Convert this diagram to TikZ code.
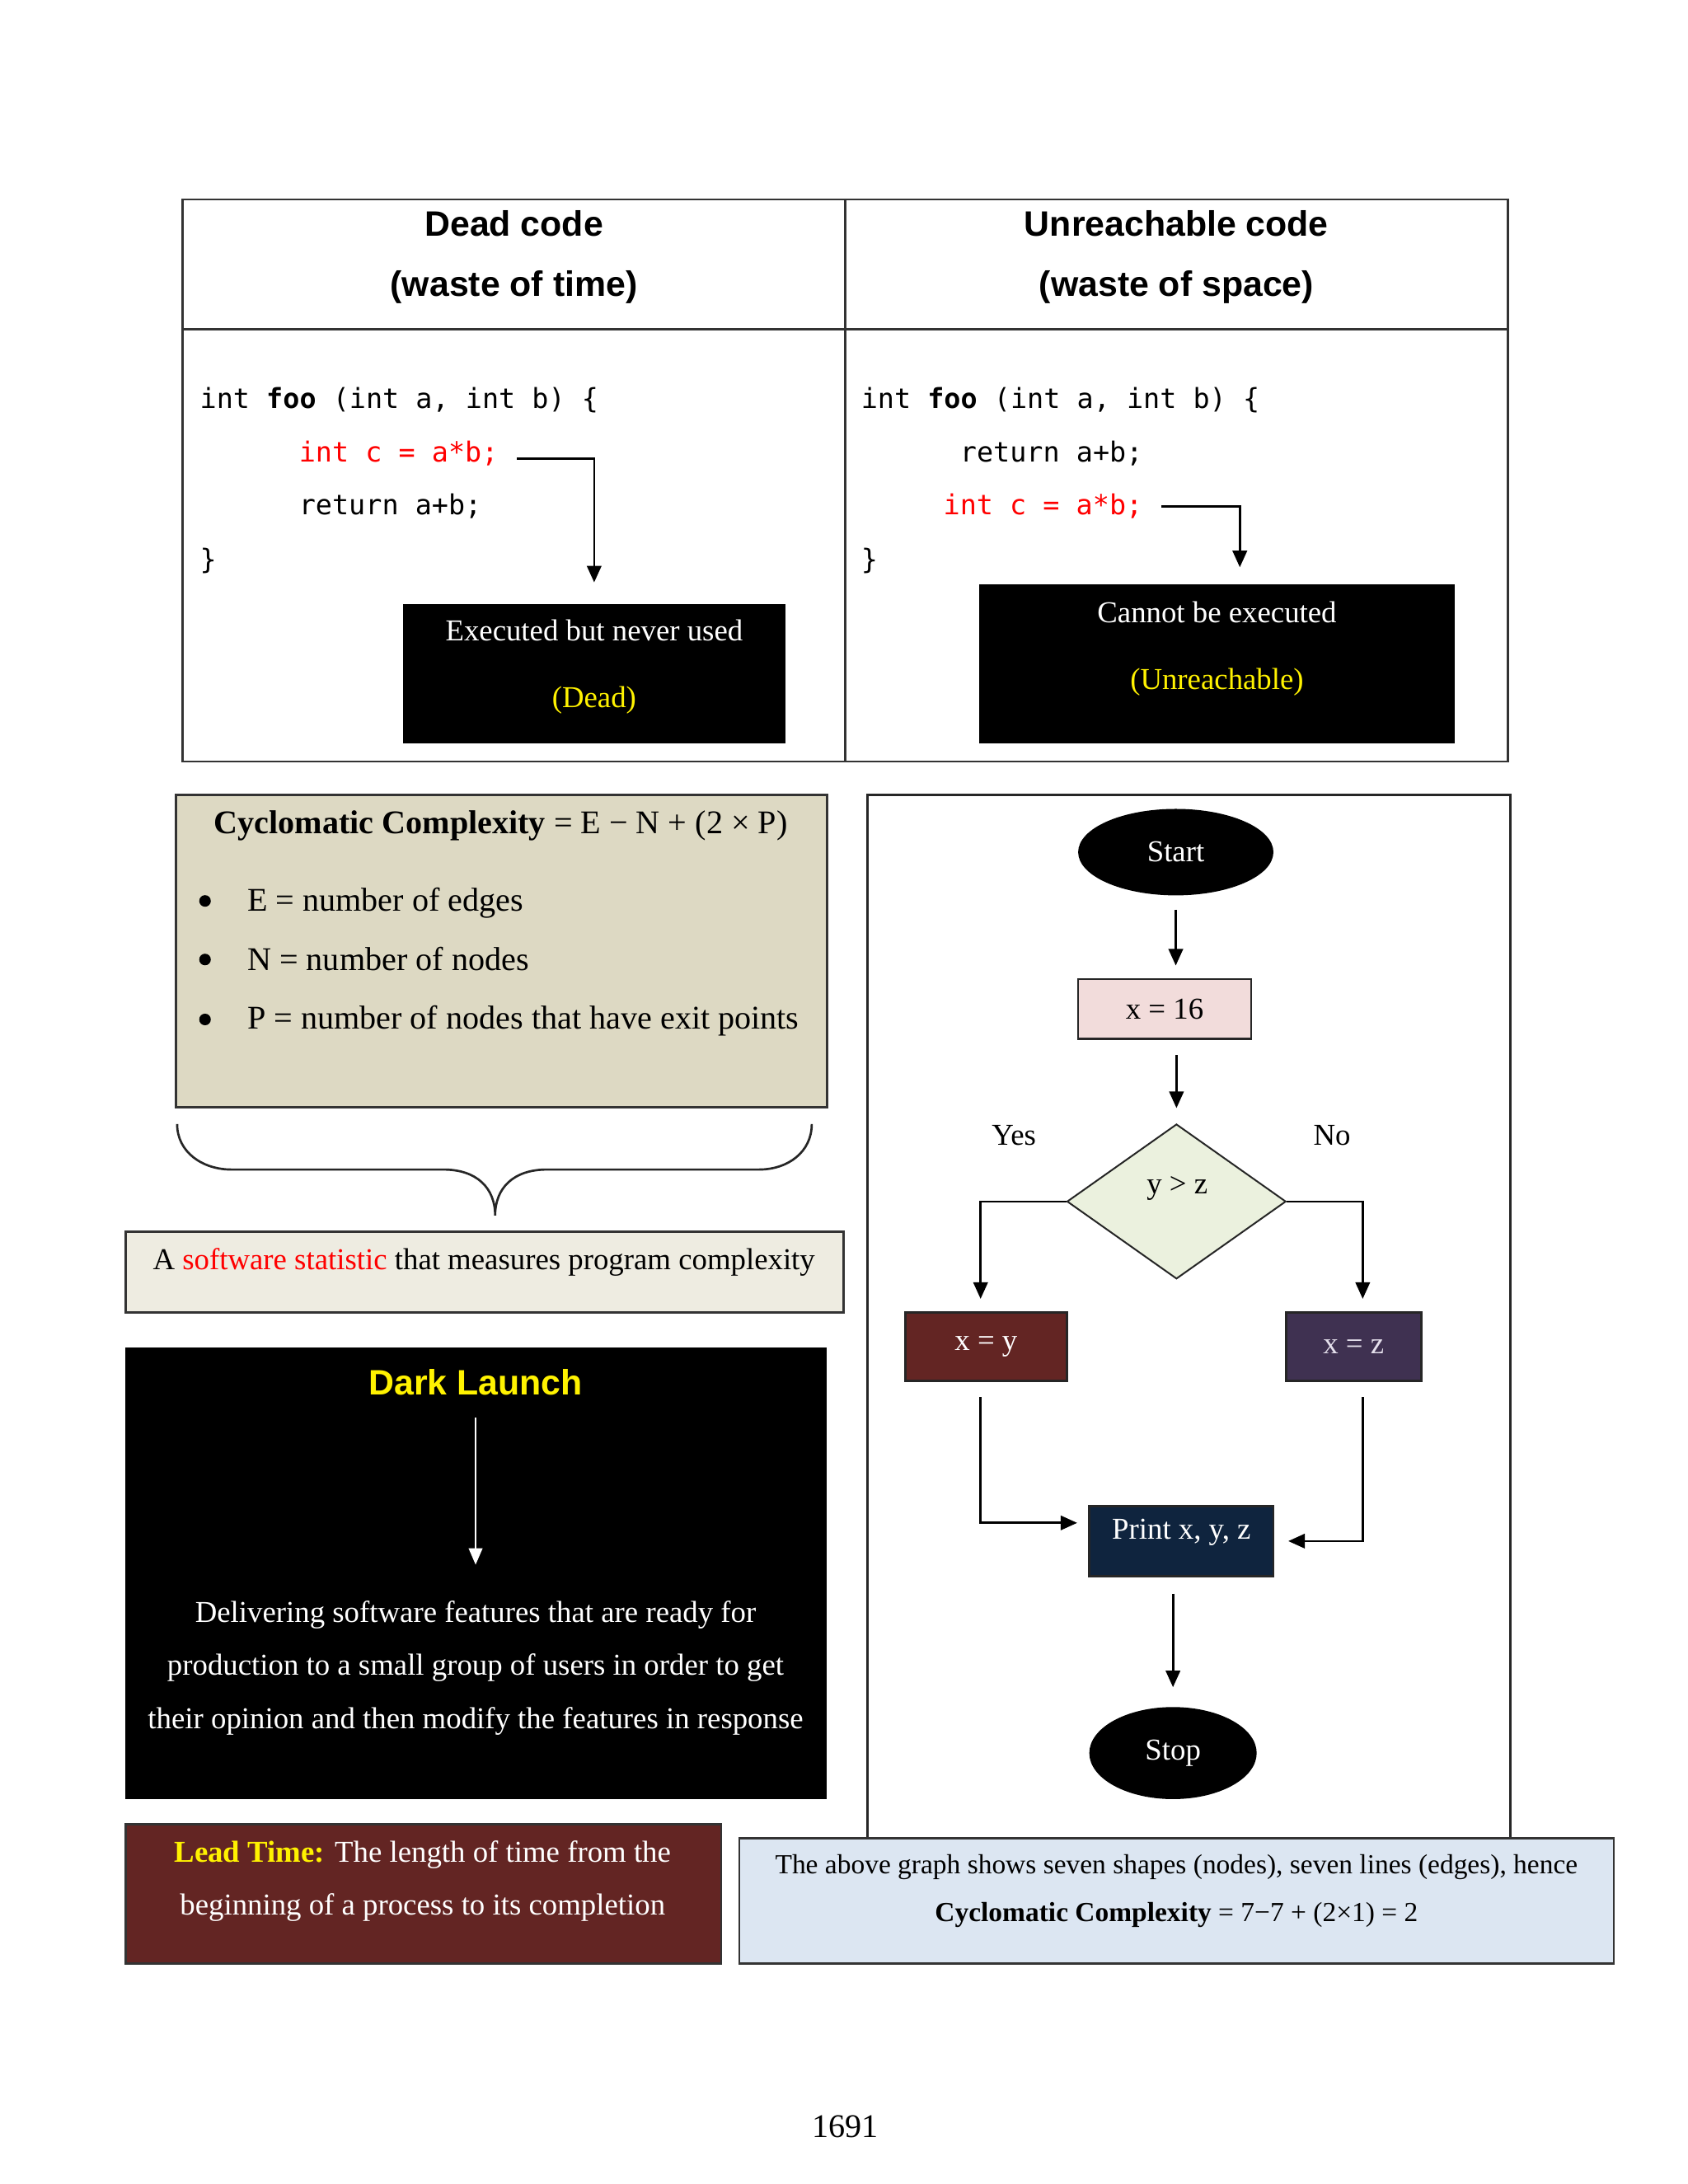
\documentclass[tikz,border=0pt]{standalone}
\usepackage{fontspec}
\setmainfont{Liberation Serif}
\setsansfont{Liberation Sans}
\setmonofont{DejaVu Sans Mono}
\usetikzlibrary{shapes.geometric,arrows.meta}

\definecolor{tanbox}{HTML}{DDD9C3}
\definecolor{tanlight}{HTML}{EEECE1}
\definecolor{darkred}{HTML}{632523}
\definecolor{darkpurple}{HTML}{3F3151}
\definecolor{darknavy}{HTML}{0F243E}
\definecolor{pinkbox}{HTML}{F2DCDB}
\definecolor{greenbox}{HTML}{EBF1DE}
\definecolor{bluebox}{HTML}{DCE6F2}
\definecolor{lavtext}{HTML}{E5E0EC}
\newcommand{\un}{0.5058pt}

\begin{document}
\begin{tikzpicture}[x=0.5058pt, y=-0.5058pt,
    arr/.style={line width=0.8pt, -{Triangle[length=6pt, width=5.2pt]}},
    code/.style={anchor=west, inner sep=0pt, font=\ttfamily\fontsize{10pt}{12pt}\selectfont},
    head/.style={inner sep=0pt, font=\sffamily\bfseries\fontsize{12.8pt}{15pt}\selectfont},
    txt/.style={inner sep=0pt, font=\fontsize{11pt}{13.2pt}\selectfont},
    dot/.style={circle, fill=black, inner sep=0pt, minimum size=4.2pt}]

    \fill[white] (0,0) rectangle (1210,1566);
    \useasboundingbox (0,0) rectangle (1210,1566);

    % 上の表
    \draw[line width=0.8pt, black!80] (131,143) rectangle (1081,546);
    \draw[line width=0.8pt, black!80] (606,143) -- (606,546);
    \draw[line width=0.8pt, black!80] (131,236) -- (1081,236);

    \node[head] (deadh1) at (368.5,160) {Dead code};
    \node[head] (deadh2) at (368.5,206) {(waste of time)};
    \node[head] (unh1) at (843.5,160) {Unreachable code};
    \node[head] (unh2) at (843.5,206) {(waste of space)};

    % コード (左)
    \node[code] (deadl1) at (143,287) {int \textbf{foo} (int a, int b) \{};
    \node[code, text=red] (deadc) at (214,325) {int c = a*b;};
    \node[code] (deadr) at (214,363) {return a+b;};
    \node[code] (deadl4) at (143,402) {\}};

    % コード (右)
    \node[code] (unl1) at (617,287) {int \textbf{foo} (int a, int b) \{};
    \node[code] (unr) at (688,325) {return a+b;};
    \node[code, text=red] (unc) at (676,363) {int c = a*b;};
    \node[code] (unl4) at (617,402) {\}};

    % 黒い箱
    \node[fill=black, minimum width=274*\un, minimum height=100*\un] (deadbox) at (426,483) {};
    \node[txt, text=white, align=center, font=\fontsize{11pt}{24.3pt}\selectfont] (deadtext) at (426,478) {Executed but never used\\\textcolor{yellow}{(Dead)}};
    \node[fill=black, minimum width=341*\un, minimum height=114*\un] (unbox) at (872.5,476) {};
    \node[txt, text=white, align=center, font=\fontsize{11pt}{24.3pt}\selectfont] (untext) at (872.5,465) {Cannot be executed\\\textcolor{yellow}{(Unreachable)}};

    \draw[arr, shorten <=6.6pt, shorten >=7.6pt] ([yshift=-2pt]deadc.east) -| (deadbox.north);
    \draw[arr, shorten <=6.6pt, shorten >=6pt] (unc.east) -| ([xshift=8.3pt]unbox.north);

    % Cyclomatic Complexity
    \node[draw=black!80, line width=0.8pt, fill=tanbox, minimum width=467*\un, minimum height=224*\un] (ccbox) at (359.5,682) {};
    \node[txt, font=\fontsize{12pt}{14pt}\selectfont] (cctitle) at (359,592) {\textbf{Cyclomatic Complexity} = E − N + (2 × P)};
    \node[dot] (bul1) at (147,646) {};
    \node[dot] (bul2) at (147,688) {};
    \node[dot] (bul3) at (147,731) {};
    \node[txt, anchor=base west, font=\fontsize{12pt}{14pt}\selectfont] (item1) at (177,653) {E = number of edges};
    \node[txt, anchor=base west, font=\fontsize{12pt}{14pt}\selectfont] (item2) at (177,696) {N = number of nodes};
    \node[txt, anchor=base west, font=\fontsize{12pt}{14pt}\selectfont] (item3) at (177,738) {P = number of nodes that have exit points};

    % 括弧
    \draw[line width=0.8pt, black!85] (127,806) .. controls (127,826) and (145,838.6) .. (166,838.6)
        -- (318,838.6) .. controls (342,838.6) and (355,852) .. (355,871.5)
        .. controls (355,852) and (368,838.6) .. (392,838.6)
        -- (544,838.6) .. controls (565,838.6) and (582,826) .. (582,806);

    \node[draw=black!80, line width=0.8pt, fill=tanlight, minimum width=515*\un, minimum height=58*\un] (statbox) at (347.5,912) {};
    \node[txt] (stattext) at (347,905) {A \textcolor{red}{software statistic} that measures program complexity};

    % Dark Launch
    \node[fill=black, minimum width=503*\un, minimum height=324*\un] (dlbox) at (341.5,1128) {};
    \node[head, text=yellow] (dltitle) at (341,991) {Dark Launch};
    \node[txt, text=white, align=center, font=\fontsize{11pt}{19.2pt}\selectfont] (dlpara) at (341,1196) {Delivering software features that are ready for\\production to a small group of users in order to get\\their opinion and then modify the features in response};
    \draw[white, line width=0.6pt, -{Triangle[length=6pt, width=5pt]}, shorten <=8pt, shorten >=13pt] (dltitle.south) -- (dltitle.south |- dlpara.north);

    % Lead Time
    \node[draw=black!80, line width=0.8pt, fill=darkred, minimum width=427*\un, minimum height=100*\un] (ltbox) at (303.5,1358) {};
    \node[txt, text=white, align=center, font=\fontsize{11pt}{19.2pt}\selectfont] (lttext) at (303,1349) {\textbf{\textcolor{yellow}{Lead Time:}} The length of time from the\\beginning of a process to its completion};

    % フローチャート
    \draw[line width=0.8pt, black!85] (622,570) rectangle (1083,1318);

    \node[ellipse, fill=black, text=white, minimum width=140*\un, minimum height=62*\un, font=\fontsize{11pt}{13pt}\selectfont] (start) at (843,611) {Start};
    \node[draw=black!85, line width=0.8pt, fill=pinkbox, minimum width=124*\un, minimum height=43*\un, font=\fontsize{11pt}{13pt}\selectfont] (x16) at (835,723.5) {x = 16};
    \node[diamond, draw=black!85, line width=0.6pt, fill=greenbox, inner sep=0pt, minimum width=157*\un, minimum height=111*\un] (dec) at (843.5,861.5) {};
    \node[txt] (dectext) at (844,852) {y > z};
    \node[txt] (yes) at (727,814) {Yes};
    \node[txt] (no) at (955,814) {No};
    \node[draw=black!85, line width=0.8pt, fill=darkred, text=white, minimum width=116*\un, minimum height=49*\un, font=\fontsize{11pt}{13pt}\selectfont] (xy) at (707,965.5) {x = y};
    \node[draw=black!85, line width=0.8pt, fill=darkpurple, text=lavtext, minimum width=97*\un, minimum height=49*\un, font=\fontsize{11pt}{13pt}\selectfont] (xz) at (970.5,965.5) {x = z};
    \node[draw=black!85, line width=0.8pt, fill=darknavy, minimum width=132*\un, minimum height=50*\un] (print) at (847,1105) {};
    \node[txt, text=white] (printtext) at (847,1099) {Print x, y, z};
    \node[ellipse, fill=black, text=white, minimum width=120*\un, minimum height=66*\un, font=\fontsize{11pt}{13pt}\selectfont] (stop) at (841,1257) {Stop};

    % 矢印
    \draw[arr, shorten <=5pt, shorten >=4.5pt] (start.south) -- (start.south |- x16.north);
    \draw[arr, shorten <=5.5pt, shorten >=5.5pt] (dec.north |- x16.south) -- (dec.north);
    \draw[arr, shorten >=4.5pt] (dec.west) -| ([xshift=-2pt]xy.north);
    \draw[arr, shorten >=4.5pt] (dec.east) -| ([xshift=3.3pt]xz.north);
    \draw[arr, shorten <=5.5pt, shorten >=4pt] ([xshift=-2pt]xy.south) |- ([yshift=6.6pt]print.west);
    \draw[arr, shorten <=5.5pt, shorten >=5pt] ([xshift=3.3pt]xz.south) |- (print.east);
    \draw[arr, shorten <=6pt, shorten >=7pt] (stop.north |- print.south) -- (stop.north);

    % 下の箱
    \node[draw=black!80, line width=0.8pt, fill=bluebox, minimum width=627*\un, minimum height=90*\un] (sumbox) at (843.5,1363) {};
    \node[txt, align=center, font=\fontsize{10pt}{17.2pt}\selectfont] (sumtext) at (843.5,1356) {The above graph shows seven shapes (nodes), seven lines (edges), hence\\\textbf{Cyclomatic Complexity} = 7−7 + (2×1) = 2};

    \node[txt, font=\fontsize{12pt}{14pt}\selectfont] (pagenum) at (606,1525) {1691};
  \end{tikzpicture}
\end{document}
